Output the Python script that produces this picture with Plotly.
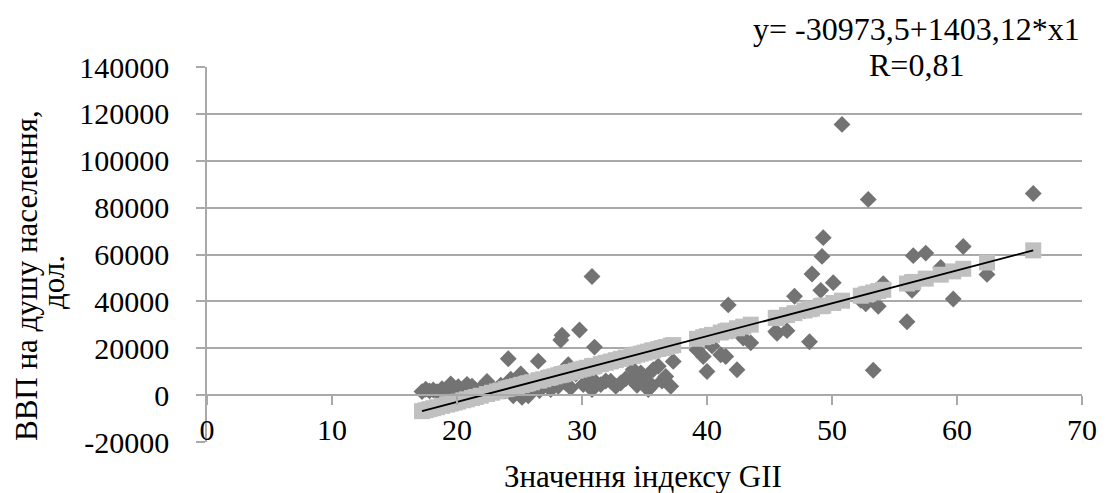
import plotly.graph_objects as go

# ---- data ----
gii = [17.2, 17.5, 17.8, 18.1, 18.4, 18.8, 19.2, 19.5, 19.8, 20.1, 20.5, 20.8, 21.2, 21.5, 21.9,
       22.4, 22.8, 23.2, 23.5, 23.9, 24.1, 24.3, 24.5, 24.8, 25.1, 25.2, 25.5, 25.7, 26.0, 26.5,
       26.6, 26.9, 27.3, 27.5, 27.8, 28.1, 28.3, 28.4, 28.5, 28.7, 28.9, 29.1, 29.5, 29.8, 30.1,
       30.4, 30.8, 30.8, 30.9, 31.0, 31.5, 31.9, 32.3, 32.7, 33.1, 33.5, 34.0, 34.1, 34.4, 34.7,
       35.0, 35.3, 35.6, 35.7, 36.1, 36.4, 36.7, 37.1, 37.3, 39.2, 39.7, 40.0, 40.4, 41.1, 41.5,
       41.7, 42.4, 42.9, 43.5, 45.5, 45.6, 46.4, 47.0, 47.8, 48.2, 48.4, 49.1, 49.2, 49.3, 50.1,
       50.8, 52.3, 52.7, 52.9, 53.3, 53.7, 54.1, 56.0, 56.4, 56.5, 57.5, 58.7, 59.7, 60.5, 62.4,
       66.1]
gdp = [1500, 2500, 1800, 2200, 1500, 2700, 1900, 4800, 2300, 3600, 2000, 4600, 3800, 2200, 3000,
       5800, 3300, 2400, 4200, 1800, 15500, 6800, -300, 3500, 9000, -900, 5000, -300, 2800, 14500,
       2000, 6500, 4000, 2400, 7500, 3800, 23500, 25600, 7400, 5200, 13000, 3100, 9000, 27800, 4500,
       8000, 50600, 2400, 6600, 20500, 4500, 6000, 5900, 3800, 5200, 7000, 6600, 10900, 4200, 9500,
       7800, 2400, 4100, 10900, 12300, 6000, 8000, 3800, 14400, 19300, 16500, 10100, 21000, 17200, 16500,
       38500, 10800, 24400, 22300, 27100, 26400, 27500, 42200, 36000, 22800, 51700, 44700, 59200, 67200, 48000,
       115500, 40500, 39000, 83500, 10600, 37900, 47500, 31300, 44700, 59500, 60600, 54500, 41000, 63400, 51500,
       86000]

intercept = -30973.5
slope = 1403.12
fitted = [intercept + slope * v for v in gii]
line_x = [min(gii), max(gii)]
line_y = [intercept + slope * v for v in line_x]

y_ticks = [-20000, 0, 20000, 40000, 60000, 80000, 100000, 120000, 140000]
y_tick_text = ["-20000", "0", "20000", "40000", "60000", "80000", "100000", "120000", "140000"]
x_ticks = [0, 10, 20, 30, 40, 50, 60, 70]
x_tick_text = ["0", "10", "20", "30", "40", "50", "60", "70"]

FONT = "Liberation Serif, Times New Roman, serif"
FS = 32      # equation annotation
TTL = 31     # axis titles
TFS = 30     # tick labels
GRID = "#a9a9a9"

OFF = 8  # page body margin
W, H = 1109 - OFF, 493 - OFF
ML, MT = 207 - OFF, 67 - OFF
MR, MB = 1109 - 1082, 493 - 442
PW, PH = W - ML - MR, H - MT - MB


def px(xp):
    return (xp - OFF - ML) / PW


def py(yp):
    return 1 - (yp - OFF - MT) / PH


fig = go.Figure()
fig.add_trace(go.Scatter(x=gii, y=gdp, mode="markers",
                         marker=dict(symbol="diamond", size=13, color="#737373", line=dict(width=0)),
                         showlegend=False))
fig.add_trace(go.Scatter(x=gii, y=fitted, mode="markers",
                         marker=dict(symbol="square", size=16, color="#c0c0c0", line=dict(width=0)),
                         showlegend=False))
fig.add_trace(go.Scatter(x=line_x, y=line_y, mode="lines",
                         line=dict(color="black", width=1.8), showlegend=False))

fig.update_layout(
    width=W, height=H,
    margin=dict(l=ML, r=MR, t=MT, b=MB, autoexpand=False),
    paper_bgcolor="white", plot_bgcolor="white",
    font=dict(family=FONT, size=FS, color="black"),
    xaxis=dict(range=[0, 70], tickvals=x_ticks, ticktext=x_tick_text, showgrid=False, zeroline=False,
               anchor="free", position=0.125, automargin=False,
               showline=True, linecolor=GRID, linewidth=1.5,
               ticks="outside", ticklen=9, tickcolor=GRID, tickwidth=1.5,
               ticklabelstandoff=-1,
               tickfont=dict(family=FONT, size=TFS, color="black")),
    yaxis=dict(range=[-20000, 140000], tickvals=y_ticks, ticktext=y_tick_text,
               showgrid=True, gridcolor=GRID, gridwidth=1.5, zeroline=False, automargin=False,
               showline=True, linecolor=GRID, linewidth=1.5,
               ticks="outside", ticklen=9, tickcolor=GRID, tickwidth=1.5,
               ticklabelstandoff=21,
               tickfont=dict(family=FONT, size=TFS, color="black")),
)

fig.add_annotation(text="Значення індексу GII", x=px(643), y=py(476), xref="paper", yref="paper",
                   xanchor="center", yanchor="middle", showarrow=False, font=dict(size=TTL))
fig.add_annotation(text="ВВП на душу населення,", x=px(26), y=py(276), xref="paper", yref="paper",
                   xanchor="center", yanchor="middle", textangle=-90, showarrow=False, font=dict(size=TTL))
fig.add_annotation(text="дол.", x=px(53), y=py(282), xref="paper", yref="paper",
                   xanchor="center", yanchor="middle", textangle=-90, showarrow=False, font=dict(size=TTL))
fig.add_annotation(text="y= -30973,5+1403,12*x1", x=px(916), y=py(29), xref="paper", yref="paper",
                   xanchor="center", yanchor="middle", showarrow=False, font=dict(size=FS))
fig.add_annotation(text="R=0,81", x=px(916), y=py(65), xref="paper", yref="paper",
                   xanchor="center", yanchor="middle", showarrow=False, font=dict(size=FS))

fig.write_html("out.html")
